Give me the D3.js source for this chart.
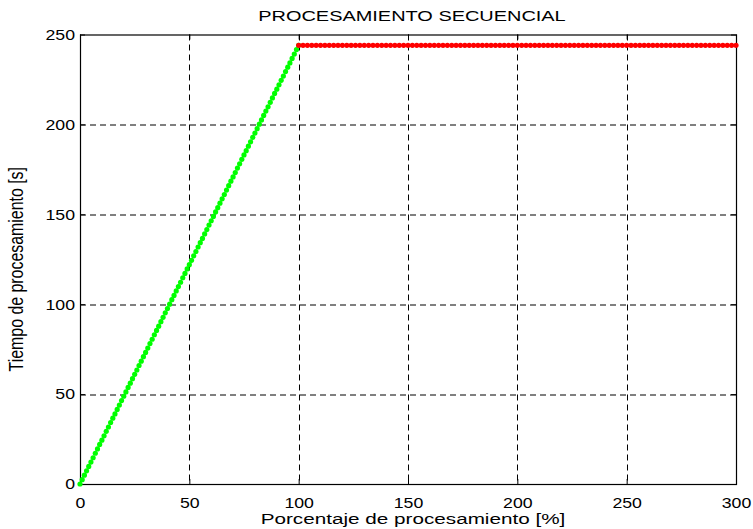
<!DOCTYPE html>
<html>
<head>
<meta charset="utf-8">
<script src="https://cdn.jsdelivr.net/npm/d3@7"></script>
<style>
  body { margin: 0; background: #fff; }
  svg { display: block; }
  text { font-family: "Liberation Sans", Arial, sans-serif; fill: #000; }
</style>
</head>
<body>
<svg id="chart" width="753" height="529"></svg>
<script>
// ---- data ----
const title = "PROCESAMIENTO SECUENCIAL";
const xLabel = "Porcentaje de procesamiento [%]";
const yLabel = "Tiempo de procesamiento [s]";
const xTicks = [0, 50, 100, 150, 200, 250, 300];
const yTicks = [0, 50, 100, 150, 200, 250];

const greenPct = [0,1,2,3,4,5,6,7,8,9,10,11,12,13,14,15,16,17,18,19,20,21,22,23,24,25,26,27,28,29,30,31,32,33,34,35,36,37,38,39,40,41,42,43,44,45,46,47,48,49,50,51,52,53,54,55,56,57,58,59,60,61,62,63,64,65,66,67,68,69,70,71,72,73,74,75,76,77,78,79,80,81,82,83,84,85,86,87,88,89,90,91,92,93,94,95,96,97,98,99,100];
const greenTime = [0,2.4,4.9,7.3,9.8,12.2,14.6,17.1,19.5,22.0,24.4,26.8,29.3,31.7,34.2,36.6,39.0,41.5,43.9,46.4,48.8,51.2,53.7,56.1,58.6,61.0,63.4,65.9,68.3,70.8,73.2,75.6,78.1,80.5,83.0,85.4,87.8,90.3,92.7,95.2,97.6,100.0,102.5,104.9,107.4,109.8,112.2,114.7,117.1,119.6,122.0,124.4,126.9,129.3,131.8,134.2,136.6,139.1,141.5,144.0,146.4,148.8,151.3,153.7,156.2,158.6,161.0,163.5,165.9,168.4,170.8,173.2,175.7,178.1,180.6,183.0,185.4,187.9,190.3,192.8,195.2,197.6,200.1,202.5,205.0,207.4,209.8,212.3,214.7,217.2,219.6,222.0,224.5,226.9,229.4,231.8,234.2,236.7,239.1,241.6,244.0];

const redPct = [100,102,104,106,108,110,112,114,116,118,120,122,124,126,128,130,132,134,136,138,140,142,144,146,148,150,152,154,156,158,160,162,164,166,168,170,172,174,176,178,180,182,184,186,188,190,192,194,196,198,200,202,204,206,208,210,212,214,216,218,220,222,224,226,228,230,232,234,236,238,240,242,244,246,248,250,252,254,256,258,260,262,264,266,268,270,272,274,276,278,280,282,284,286,288,290,292,294,296,298,300];
const redTime = [244,244,244,244,244,244,244,244,244,244,244,244,244,244,244,244,244,244,244,244,244,244,244,244,244,244,244,244,244,244,244,244,244,244,244,244,244,244,244,244,244,244,244,244,244,244,244,244,244,244,244,244,244,244,244,244,244,244,244,244,244,244,244,244,244,244,244,244,244,244,244,244,244,244,244,244,244,244,244,244,244,244,244,244,244,244,244,244,244,244,244,244,244,244,244,244,244,244,244,244,244];

// ---- layout ----
const W = 753, H = 529;
const m = { left: 80, right: 17, top: 34.5, bottom: 45 };
const iw = W - m.left - m.right, ih = H - m.top - m.bottom;
const sx = 1.18; // horizontal stretch of tick text in the reference

const svg = d3.select("#chart");
const g = svg.append("g").attr("transform", `translate(${m.left},${m.top})`);

const x = d3.scaleLinear().domain([0, 300]).range([0, iw]);
const y = d3.scaleLinear().domain([0, 250]).range([ih, 0]);

// grid
g.append("g").selectAll("line").data(xTicks.slice(1, -1)).join("line")
  .attr("x1", d => Math.round(x(d)) + 0.5).attr("x2", d => Math.round(x(d)) + 0.5)
  .attr("y1", 0).attr("y2", ih)
  .attr("stroke", "#000").attr("stroke-width", 1).attr("stroke-dasharray", "6,4");
g.append("g").selectAll("line").data(yTicks.slice(1, -1)).join("line")
  .attr("y1", d => Math.round(y(d)) + 0.5).attr("y2", d => Math.round(y(d)) + 0.5)
  .attr("x1", 0).attr("x2", iw)
  .attr("stroke", "#000").attr("stroke-width", 1).attr("stroke-dasharray", "6,4");

// axes (ticks inward, MATLAB style)
const xAxis = g.append("g").attr("transform", `translate(0,${ih})`)
  .call(d3.axisBottom(x).tickValues(xTicks).tickSize(-5).tickPadding(13).tickFormat(d3.format("d")));
const yAxis = g.append("g")
  .call(d3.axisLeft(y).tickValues(yTicks).tickSize(-5).tickPadding(10).tickFormat(d3.format("d")));
g.append("g").call(d3.axisTop(x).tickValues(xTicks).tickSize(-5).tickFormat(""));
g.append("g").attr("transform", `translate(${iw},0)`)
  .call(d3.axisRight(y).tickValues(yTicks).tickSize(-5).tickFormat(""));

g.selectAll(".domain").remove();
g.selectAll(".tick line").attr("stroke", "#000");
xAxis.selectAll("text").attr("font-size", 15).attr("transform", `scale(${sx},1)`);
yAxis.selectAll("text").attr("font-size", 15)
  .attr("text-anchor", "end").attr("x", -5 / sx).attr("transform", `scale(${sx},1)`);

// frame
g.append("rect").attr("x", 0.5).attr("y", 0.5).attr("width", iw).attr("height", ih)
  .attr("fill", "none").attr("stroke", "#000").attr("stroke-width", 1.2);

// data marks
g.append("g").selectAll("circle").data(greenPct.map((p, i) => [p, greenTime[i]])).join("circle")
  .attr("cx", d => x(d[0])).attr("cy", d => y(d[1])).attr("r", 2.6).attr("fill", "#00ff00");
g.append("g").selectAll("circle").data(redPct.map((p, i) => [p, redTime[i]])).join("circle")
  .attr("cx", d => x(d[0])).attr("cy", d => y(d[1])).attr("r", 2.6).attr("fill", "#ff0000");

// labels
svg.append("text").attr("transform", `translate(${m.left + iw / 2 + 4},21) scale(1.33,1)`)
  .attr("text-anchor", "middle").attr("font-size", 15).text(title);
svg.append("text").attr("transform", `translate(${m.left + iw / 2 + 5},524) scale(1.38,1)`)
  .attr("text-anchor", "middle").attr("font-size", 15).text(xLabel);
svg.append("text").attr("transform", `translate(23,${m.top + ih / 2 + 10}) rotate(-90) scale(1.06,1.3)`)
  .attr("text-anchor", "middle").attr("font-size", 15).text(yLabel);
</script>
</body>
</html>
